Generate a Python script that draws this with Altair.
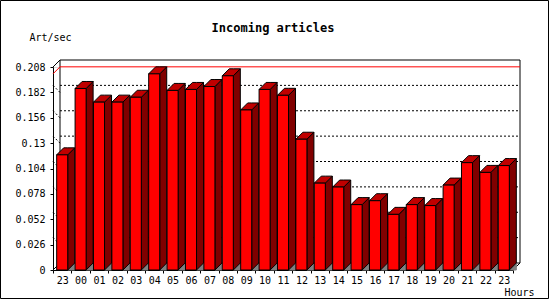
import altair as alt
import pandas as pd

# ---- data ----
HOURS = ["23", "00", "01", "02", "03", "04", "05", "06", "07", "08", "09", "10",
         "11", "12", "13", "14", "15", "16", "17", "18", "19", "20", "21", "22", "23"]
VALUES = [0.118, 0.186, 0.172, 0.172, 0.177, 0.201, 0.184, 0.185, 0.188, 0.199,
          0.164, 0.185, 0.179, 0.134, 0.089, 0.085, 0.067, 0.071, 0.057, 0.067,
          0.066, 0.087, 0.110, 0.100, 0.107]
Y_TICKS = [0, 0.026, 0.052, 0.078, 0.104, 0.13, 0.156, 0.182, 0.208]
TITLE = "Incoming articles"
Y_TITLE = "Art/sec"
X_TITLE = "Hours"

# ---- layout / style ----
W, H = 460, 203
N = len(VALUES)
YMAX = Y_TICKS[-1]
DEPTH = 7                      # 3D depth in pixels
DX = DEPTH / W * N             # depth in x data units
DY = DEPTH / H * YMAX          # depth in y data units
BL, BR = 0.2, 0.8              # front face inside each slot
FONT = "DejaVu Sans Mono"
FRONT, SIDE, TOP, FLOOR = "#ff0000", "#800000", "#c00000", "#808080"

xs = alt.Scale(domain=[0, N], nice=False, zero=False)
ys = alt.Scale(domain=[0, YMAX], nice=False)

front = pd.DataFrame({
    "x0": [i + BL for i in range(N)],
    "x1": [i + BR for i in range(N)],
    "v": VALUES,
    "zero": [0.0] * N,
})

side_rows, top_rows, floor_rows = [], [], []
for i, v in enumerate(VALUES):
    side_rows += [(i, i + BR, 0.0, v), (i, i + BR + DX, DY, v + DY)]
    top_rows += [(i, i + BL, v, v), (i, i + BL + DX, v, v + DY),
                 (i, i + BR, v, v + DY), (i, i + BR + DX, v + DY, v + DY)]
    floor_rows += [(i, i + BR, 0.0, 0.0), (i, i + BR + DX, 0.0, DY)]
cols = ["bar", "x0", "lo", "v"]
side = pd.DataFrame(side_rows, columns=cols)
top = pd.DataFrame(top_rows, columns=cols)
floor = pd.DataFrame(floor_rows, columns=cols)

vmax = max(VALUES)
grid = pd.DataFrame({"v": [t + DY for t in Y_TICKS[1:-1]], "yf": Y_TICKS[1:-1]})

# box edges (back wall + connecting diagonals)
wall = pd.DataFrame({"x0": [DX], "x1": [N + DX], "v": [DY], "y1": [YMAX + DY]})
edges = pd.DataFrame({
    "x0": [0, 0, N], "v": [0, YMAX, 0],
    "x1": [DX, DX, N + DX], "y1": [DY, YMAX + DY, DY],
})
maxline = pd.DataFrame({
    "x0": [0, DX], "v": [vmax, vmax + DY],
    "x1": [DX, N + DX], "y1": [vmax + DY, vmax + DY],
})

label_expr = "[" + ",".join("'%s'" % h for h in HOURS + [""]) + "][datum.value]"

x_axis = alt.Axis(
    values=list(range(N + 1)), labelExpr=label_expr, labelOffset=W / N / 2,
    labelFlush=False, labelOverlap=False, grid=False,
    tickSize=3, labelPadding=2, labelFont=FONT, labelFontSize=10,
    labelColor="black", domainColor="black", tickColor="black",
    title=X_TITLE, titleFont=FONT, titleFontSize=10, titleFontWeight="normal",
    titleColor="black", titleX=481, titleY=22, titleAlign="right",
    titleBaseline="middle", titleAnchor="end",
)
y_axis = alt.Axis(
    values=Y_TICKS, format=".3~f", grid=False, labelOverlap=False,
    labelFlush=False, tickSize=3, labelPadding=5, labelFont=FONT,
    labelFontSize=10, labelColor="black", domainColor="black", tickColor="black",
    title=Y_TITLE, titleFont=FONT, titleFontSize=10, titleFontWeight="normal",
    titleColor="black", titleAngle=0, titleX=-3, titleY=-30,
    titleAlign="center", titleBaseline="middle",
)

X = alt.X("x0:Q", scale=xs, axis=x_axis)
Y = alt.Y("v:Q", scale=ys, axis=y_axis)

wall_l = alt.Chart(wall).mark_rect(fill="white", stroke="black", strokeWidth=1).encode(
    x=X, x2="x1:Q", y=Y, y2="y1:Q")

grid_l = alt.Chart(grid).mark_rule(color="black", strokeDash=[2, 2], strokeWidth=1).encode(
    x=alt.value(DEPTH), x2=alt.value(W + DEPTH), y=Y)

diag_l = alt.Chart(grid).mark_rule(color="black", strokeDash=[2, 2], strokeWidth=1).encode(
    x=alt.value(0), x2=alt.value(DEPTH), y=Y, y2="yf:Q")

edge_l = alt.Chart(edges).mark_rule(color="black", strokeWidth=1).encode(
    x=X, x2="x1:Q", y=Y, y2="y1:Q")

max_l = alt.Chart(maxline).mark_rule(color="#ff0000", strokeWidth=1).encode(
    x=X, x2="x1:Q", y=Y, y2="y1:Q")

def poly(df, fill, stroke):
    return alt.Chart(df).mark_area(fill=fill, stroke=stroke, strokeWidth=1,
                                   interpolate="linear").encode(
        x=X, y=Y, y2="lo:Q", detail="bar:N")

floor_l = poly(floor, FLOOR, FLOOR)
side_l = poly(side, SIDE, "black")
top_l = poly(top, TOP, "black")

front_l = alt.Chart(front).mark_rect(fill=FRONT, stroke="black", strokeWidth=1).encode(
    x=X, x2="x1:Q", y=Y, y2="zero:Q")

border_l = alt.Chart(pd.DataFrame({"a": [0]})).mark_rect(
    fill=None, stroke="black", strokeWidth=1).encode(
    x=alt.value(-52.5), x2=alt.value(549.5 - 53 - 1),
    y=alt.value(-66.5), y2=alt.value(299.5 - 67 - 1))

chart = alt.layer(
    wall_l, grid_l, diag_l, edge_l, max_l, floor_l, side_l, top_l, front_l, border_l
).properties(
    width=W, height=H,
    title=alt.TitleParams(TITLE, font=FONT, fontSize=12, fontWeight="bold",
                          color="black", anchor="middle", dx=-10, dy=39),
    padding={"left": 53, "top": 67, "right": 37, "bottom": 30},
    autosize=alt.AutoSizeParams(type="none"),
).configure_view(stroke=None).configure(background="white")

chart.save("out.html", embed_options={"renderer": "svg", "actions": False})
